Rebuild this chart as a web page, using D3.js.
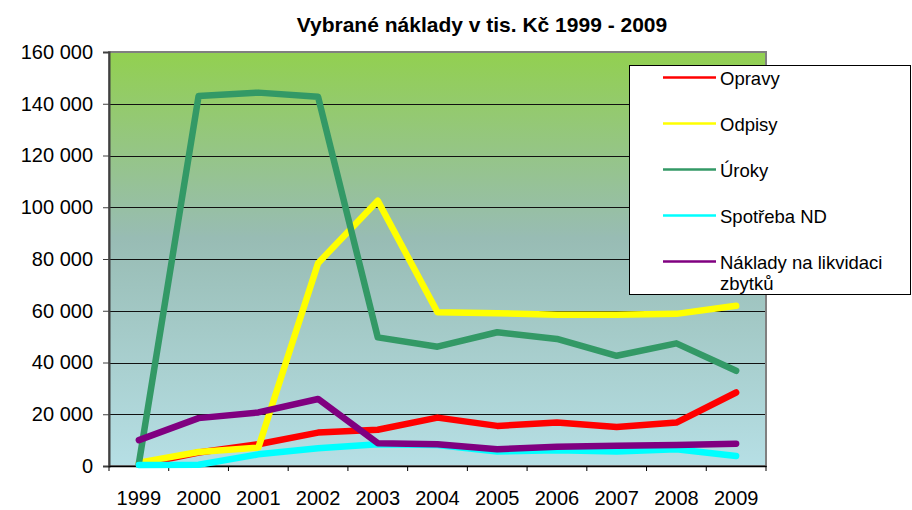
<!DOCTYPE html>
<html>
<head>
<meta charset="utf-8">
<script src="https://cdn.jsdelivr.net/npm/d3@7"></script>
<style>
  body { margin: 0; background: #fff; }
  svg { display: block; font-family: "Liberation Sans", Arial, sans-serif; }
</style>
</head>
<body>
<svg class="chart"></svg>
<script>
var years = ["1999", "2000", "2001", "2002", "2003", "2004", "2005", "2006", "2007", "2008", "2009"];
var seriesNames = ["Opravy", "Odpisy", "Úroky", "Spotřeba ND", "Náklady na likvidaci zbytků"];
var seriesColors = ["#ff0000", "#ffff00", "#339966", "#00ffff", "#800080"];
var opravy = [500, 5200, 8400, 12900, 14000, 18700, 15500, 16800, 15100, 16800, 28400];
var odpisy = [1300, 5400, 7100, 78400, 102500, 59400, 59000, 58500, 58500, 58800, 61900];
var uroky = [1000, 143000, 144300, 142700, 49700, 46100, 51700, 49100, 42600, 47400, 36800];
var spotreba = [400, 500, 4500, 6900, 8400, 8100, 5600, 6100, 5600, 6500, 3900];
var likvidace = [10000, 18500, 20700, 25900, 8800, 8400, 6500, 7400, 7800, 8100, 8600];
var yTicks = [0, 20000, 40000, 60000, 80000, 100000, 120000, 140000, 160000];
var title = "Vybrané náklady v tis. Kč 1999 - 2009";

function show() {
    'use strict';
    var W = 912, H = 510;
    var margin = {top: 52, left: 109, right: 146, bottom: 44};
    var width = W - margin.left - margin.right,
        height = H - margin.top - margin.bottom;

    var svg = d3.select(".chart").attr("width", W).attr("height", H);

    var defs = svg.append("defs");
    var grad = defs.append("linearGradient").attr("id", "bg")
        .attr("x1", 0).attr("y1", 0).attr("x2", 0).attr("y2", 1);
    grad.append("stop").attr("offset", "0%").attr("stop-color", "#92d050");
    grad.append("stop").attr("offset", "45%").attr("stop-color", "#98bcb4");
    grad.append("stop").attr("offset", "100%").attr("stop-color", "#b6dfe5");

    var x = d3.scaleBand().domain(years).range([0, width]);
    var y = d3.scaleLinear().domain([0, 160000]).range([height, 0]);

    var g = svg.append("g").attr("transform", "translate(" + margin.left + "," + margin.top + ")");

    g.append("rect").attr("width", width).attr("height", height).attr("fill", "url(#bg)");

    // gridlines
    g.append("g").selectAll("line").data(yTicks.slice(1, -1)).enter()
        .append("line")
        .attr("x1", 0).attr("x2", width)
        .attr("y1", function(d) { return Math.round(y(d)) + 0.5; })
        .attr("y2", function(d) { return Math.round(y(d)) + 0.5; })
        .attr("stroke", "#111").attr("stroke-width", 1);

    g.append("rect").attr("width", width).attr("height", height)
        .attr("fill", "none").attr("stroke", "#808080").attr("stroke-width", 2);

    var fmt = function(d) { return d3.format(",")(d).replace(/,/g, " "); };

    var yAxis = g.append("g")
        .call(d3.axisLeft(y).tickValues(yTicks).tickFormat(fmt).tickSize(6).tickPadding(10));
    yAxis.select(".domain").attr("stroke", "#404040").attr("stroke-width", 2);
    yAxis.selectAll(".tick line").attr("stroke", "#404040");
    yAxis.selectAll("text").attr("font-size", "20px").attr("fill", "#000");

    var xAxis = g.append("g").attr("transform", "translate(0," + height + ")")
        .call(d3.axisBottom(x).tickSize(0).tickPadding(25));
    xAxis.select(".domain").attr("stroke", "#000").attr("stroke-width", 1.5);
    xAxis.selectAll("text").attr("font-size", "20px").attr("fill", "#000");
    // category boundary ticks
    g.append("g").selectAll("line").data(d3.range(years.length + 1)).enter()
        .append("line")
        .attr("x1", function(i) { return i * x.step(); })
        .attr("x2", function(i) { return i * x.step(); })
        .attr("y1", height).attr("y2", height + 5)
        .attr("stroke", "#000");

    var allSeries = [opravy, odpisy, uroky, spotreba, likvidace];
    var line = d3.line()
        .x(function(d, i) { return x(years[i]) + x.bandwidth() / 2; })
        .y(function(d) { return y(d); });

    g.append("g").selectAll("path").data(allSeries).enter()
        .append("path")
        .attr("d", line)
        .attr("fill", "none")
        .attr("stroke", function(d, i) { return seriesColors[i]; })
        .attr("stroke-width", 6.5)
        .attr("stroke-linejoin", "round")
        .attr("stroke-linecap", "round");

    // title
    svg.append("text").attr("x", 482).attr("y", 32)
        .attr("text-anchor", "middle").attr("font-size", "21px").attr("font-weight", "bold")
        .text(title);

    // legend
    var legend = svg.append("g");
    legend.append("rect").attr("x", 629.5).attr("y", 65.5).attr("width", 281).attr("height", 229)
        .attr("fill", "#fff").attr("stroke", "#000").attr("stroke-width", 1);
    var ly = [77.5, 123.5, 169.5, 215.5, 261.5];
    seriesNames.forEach(function(name, i) {
        legend.append("line").attr("x1", 663).attr("x2", 716)
            .attr("y1", ly[i]).attr("y2", ly[i])
            .attr("stroke", seriesColors[i]).attr("stroke-width", 2.5);
        var t = legend.append("text").attr("x", 720).attr("y", ly[i] + 7).attr("font-size", "18.5px");
        if (i === 4) {
            t.append("tspan").attr("x", 720).text("Náklady na likvidaci");
            t.append("tspan").attr("x", 720).attr("dy", 21).text("zbytků");
        } else {
            t.text(name);
        }
    });
}
show();
</script>
</body>
</html>
